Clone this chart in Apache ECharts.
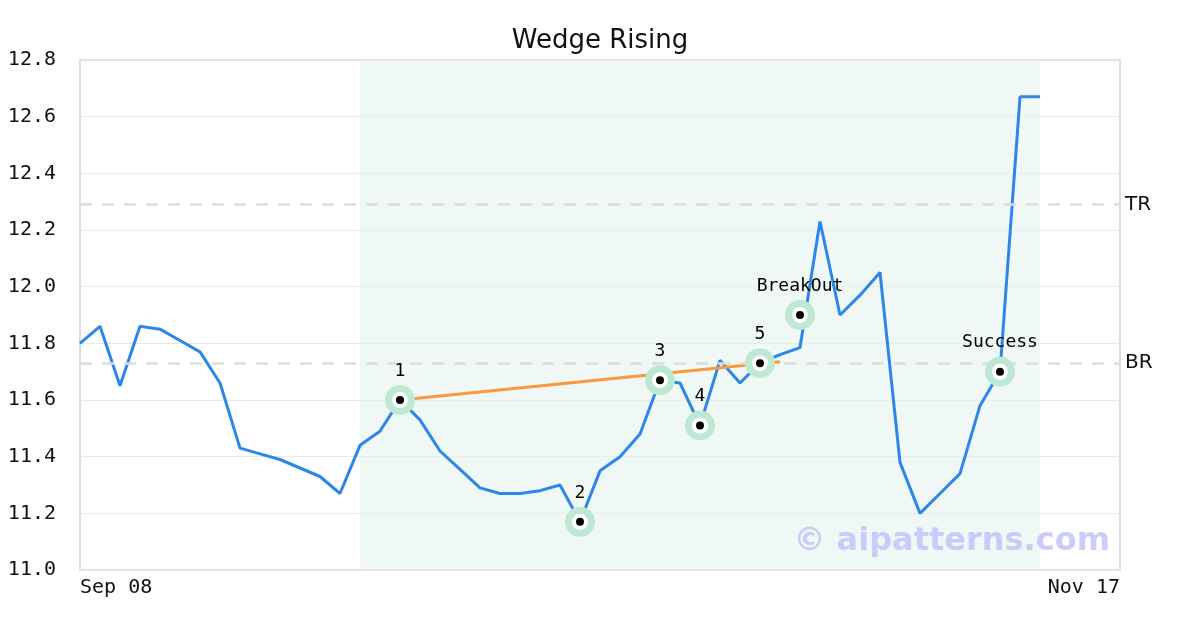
<!DOCTYPE html>
<html>
<head>
<meta charset="utf-8">
<script src="https://cdn.jsdelivr.net/npm/echarts@6/dist/echarts.min.js"></script>
<style>html,body{margin:0;padding:0;background:#fff}#c{width:1200px;height:630px}</style>
</head>
<body>
<div id="c"></div>
<script>
// ---- data ----
const title = 'Wedge Rising';
const xTickIndex = [0, 52];
const xTickLabels = ['Sep 08', 'Nov 17'];
const priceIndex = [0,1,2,3,4,5,6,7,8,9,10,11,12,13,14,15,16,17,18,19,20,21,22,23,24,25,26,27,28,29,30,31,32,33,34,35,36,37,38,39,40,41,42,43,44,45,46,47,48];
const priceValues = [11.80,11.86,11.65,11.86,11.85,11.81,11.77,11.66,11.43,11.41,11.39,11.36,11.33,11.27,11.44,11.49,11.60,11.53,11.42,11.355,11.29,11.27,11.27,11.28,11.30,11.17,11.35,11.40,11.48,11.67,11.66,11.51,11.74,11.66,11.73,11.76,11.785,12.23,11.90,11.97,12.05,11.38,11.20,11.27,11.34,11.58,11.70,12.67,12.67];
const trendIndex = [16, 35];
const trendValues = [11.60, 11.735];
const pointNames = ['1','2','3','4','5','BreakOut','Success'];
const pointIndex = [16, 25, 29, 31, 34, 36, 46];
const pointValues = [11.60, 11.17, 11.67, 11.51, 11.73, 11.90, 11.70];
const levelNames = ['TR', 'BR'];
const levelValues = [12.29, 11.73];
const patternRange = [14, 48];
const yMin = 11.0, yMax = 12.8, yStep = 0.2;

const mono = 'DejaVu Sans Mono';
const sans = 'DejaVu Sans';
const pricePts = priceIndex.map((x, i) => [x, priceValues[i]]);
const trendPts = trendIndex.map((x, i) => [x, trendValues[i]]);
const markPts = pointIndex.map((x, i) => ({name: pointNames[i], value: [x, pointValues[i]]}));

const chart = echarts.init(document.getElementById('c'), null, {renderer: 'canvas'});
chart.setOption({
  animation: false,
  backgroundColor: '#ffffff',
  title: {
    text: title, left: 'center', top: 23,
    textStyle: {fontFamily: sans, fontSize: 26, fontWeight: 'normal', color: '#111'}
  },
  grid: {left: 80, right: 80, top: 60, bottom: 60, show: true, borderColor: '#dddddd', borderWidth: 2, backgroundColor: 'transparent'},
  xAxis: {
    type: 'value', min: xTickIndex[0], max: xTickIndex[xTickIndex.length - 1], interval: xTickIndex[1] - xTickIndex[0],
    axisLine: {show: false}, axisTick: {show: false}, splitLine: {show: false},
    axisLabel: {
      fontFamily: mono, fontSize: 20, color: '#111', margin: 8,
      alignMinLabel: 'left', alignMaxLabel: 'right',
      formatter: v => { const k = xTickIndex.indexOf(v); return k >= 0 ? xTickLabels[k] : ''; }
    }
  },
  yAxis: {
    type: 'value', min: yMin, max: yMax, interval: yStep,
    axisLine: {show: false}, axisTick: {show: false},
    splitLine: {lineStyle: {color: '#e8e8e8', width: 1}},
    axisLabel: {fontFamily: mono, fontSize: 20, color: '#111', margin: 24, formatter: v => v.toFixed(1)}
  },
  graphic: [{
    type: 'text', right: 90, top: 526, z: 100,
    style: {text: '\u00a9 aipatterns.com', font: 'bold 32px "DejaVu Sans"', fill: 'rgba(195,195,250,0.85)'}
  }],
  series: [
    {
      type: 'line', data: pricePts, symbol: 'none', z: 3,
      lineStyle: {color: '#2e86e8', width: 3},
      markArea: {silent: true, itemStyle: {color: 'rgba(225,242,235,0.55)'},
        data: [[{xAxis: patternRange[0]}, {xAxis: patternRange[1]}]]},
      markLine: {
        silent: true, symbol: 'none',
        lineStyle: {color: '#dddddd', type: [12, 10], width: 2.5},
        label: {position: 'end', formatter: '{b}', fontFamily: sans, fontSize: 20, color: '#111', distance: 5},
        data: levelNames.map((n, i) => ({name: n, yAxis: levelValues[i]}))
      }
    },
    {
      type: 'line', data: trendPts, symbol: 'none', z: 4,
      lineStyle: {color: '#f79a3e', width: 3}
    },
    {
      type: 'scatter', data: markPts, symbolSize: 30, z: 5,
      itemStyle: {color: 'rgb(190,232,211)', opacity: 1}
    },
    {
      type: 'scatter', data: markPts, symbolSize: 12, z: 6,
      itemStyle: {color: '#000', borderColor: '#fff', borderWidth: 4, opacity: 1},
      label: {show: true, position: 'top', distance: 12, formatter: '{b}', fontFamily: mono, fontSize: 18, color: '#000', opacity: 1}
    }
  ]
});
</script>
</body>
</html>
